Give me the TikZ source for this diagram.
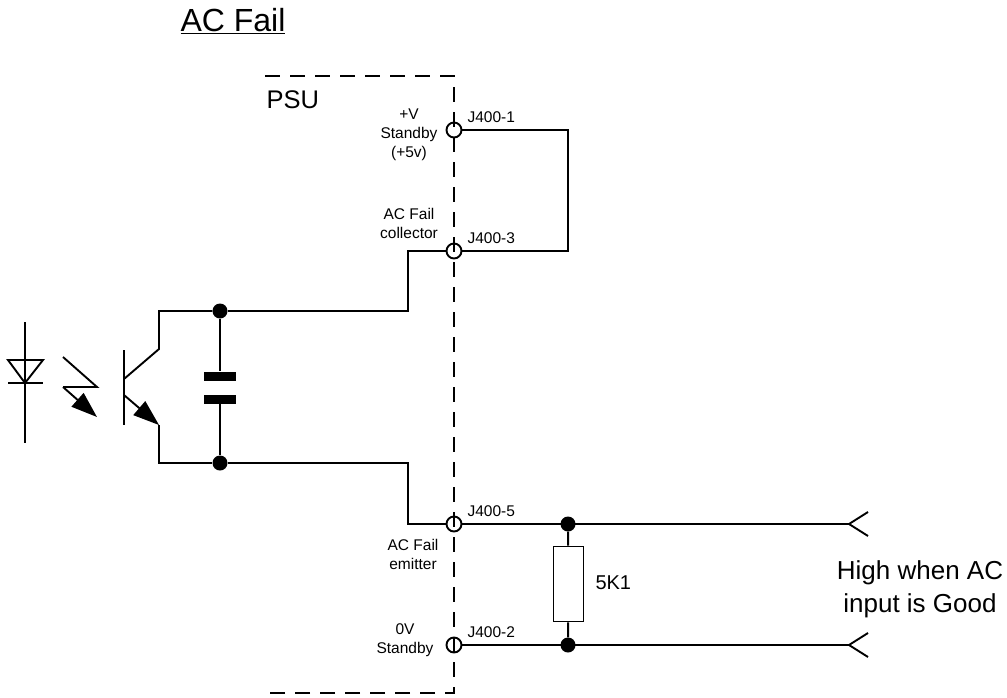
\documentclass[tikz,border=0pt]{standalone}
\usepackage{fontspec}
\setmainfont{Liberation Sans}
\usetikzlibrary{arrows.meta}
\tikzset{
	wire/.style={line width=1.9pt},
	boundary/.style={line width=1.9pt,dash pattern=on 15pt off 10pt},
	dot/.style={circle,fill=black,inner sep=0pt,minimum size=15pt},
	pin/.style={circle,draw,line width=1.9pt,fill=none,inner sep=0pt,minimum size=15pt},
	pinlabel/.style={font=\fontsize{15.5}{19}\selectfont,align=center},
	plate/.style={fill=black,minimum width=32pt,minimum height=9pt,inner sep=0pt},
	bolt/.style={-{Triangle[length=26pt,width=18pt]},line width=1.9pt}
}
\begin{document}
\begin{tikzpicture}[x=1pt,y=-1pt]
	\useasboundingbox (0,0) rectangle (1007,697);
	% PSU boundary
	\draw[boundary] (265,76)--(454,76)--(454,693)--(265,693);
	\node[font=\fontsize{25.5}{30}\selectfont,anchor=base west] at (263,108){PSU};
	\node[font=\fontsize{32}{36}\selectfont,anchor=base west] at (177,31){\underline{AC Fail}};
	% pins
	\node[pin] (p1) at (454,130){};
	\node[pin] (p3) at (454,251){};
	\node[pin] (p5) at (454,524){};
	\node[pin] (p2) at (454,645){};
	\node[pinlabel] at (409,135){+V\\Standby\\(+5v)};
	\node[pinlabel] at (409,223){AC Fail\\collector};
	\node[pinlabel] at (413,554){AC Fail\\emitter};
	\node[pinlabel] at (405,640){0V\\Standby};
	\node[pinlabel,anchor=west] at (464,117){J400-1};
	\node[pinlabel,anchor=west] at (464,238){J400-3};
	\node[pinlabel,anchor=west] at (464,511){J400-5};
	\node[pinlabel,anchor=west] at (464,632){J400-2};
	% link on the right
	\coordinate (c1) at (568,130);
	\coordinate (c3) at (568,251);
	\draw[wire] (p1)--(c1)--(c3)--(p3);
	% optocoupler
	\coordinate (dtop) at (25,322);
	\coordinate (dbot) at (25,443);
	\coordinate (dapex) at (25,383);
	\draw[wire] (dtop)--(dbot);
	\draw[wire] (8,360)--(43,360)--(dapex)--cycle;
	\draw[wire] (8,383)--(43,383);
	\coordinate (la) at (63,357);
	\coordinate (lb) at (97,387);
	\coordinate (lc) at (63,387);
	\coordinate (ld) at (97,417);
	\draw[wire] (la)--(lb)--(lc);
	\draw[bolt] (lc)--(ld);
	% transistor
	\coordinate (base1) at (124,350);
	\coordinate (base2) at (124,425);
	\coordinate (col) at (159,349);
	\coordinate (emi) at (159,425);
	\node[dot] (dtp) at (220,311){};
	\node[dot] (dbt) at (220,463){};
	\draw[wire] (base1)--(base2);
	\draw[wire] (124,379)--(col)--(159,311)--(dtp);
	\draw[bolt] (124,395)--(emi);
	\draw[wire] (emi)--(159,463)--(dbt);
	% capacitor
	\node[plate] (cp1) at (220,376){};
	\node[plate] (cp2) at (220,399){};
	\draw[wire] (dtp)--(cp1);
	\draw[wire] (cp2)--(dbt);
	% wires to pins
	\draw[wire] (dtp)--(408,311)--(408,251)--(p3);
	\draw[wire] (dbt)--(408,463)--(408,524)--(p5);
	% load
	\node[dot] (d5) at (568,524){};
	\node[dot] (d2) at (568,645){};
	\node[draw,line width=1.9pt,minimum width=30pt,minimum height=75pt,inner sep=0pt] (rl) at (568.5,584){};
	\node[font=\fontsize{20}{24}\selectfont,anchor=west] at (592,583){5K1};
	\draw[wire] (d5)--(rl);
	\draw[wire] (rl)--(d2);
	\coordinate (t5) at (849,524);
	\coordinate (t2) at (849,645);
	\draw[wire] (p5)--(t5);
	\draw[wire] (p2)--(t2);
	\draw[wire] (868,512)--(t5)--(868,536);
	\draw[wire] (868,633)--(t2)--(868,657);
	\node[font=\fontsize{26}{33}\selectfont,align=center] at (920,589){High when AC\\input is Good};
\end{tikzpicture}
\end{document}
